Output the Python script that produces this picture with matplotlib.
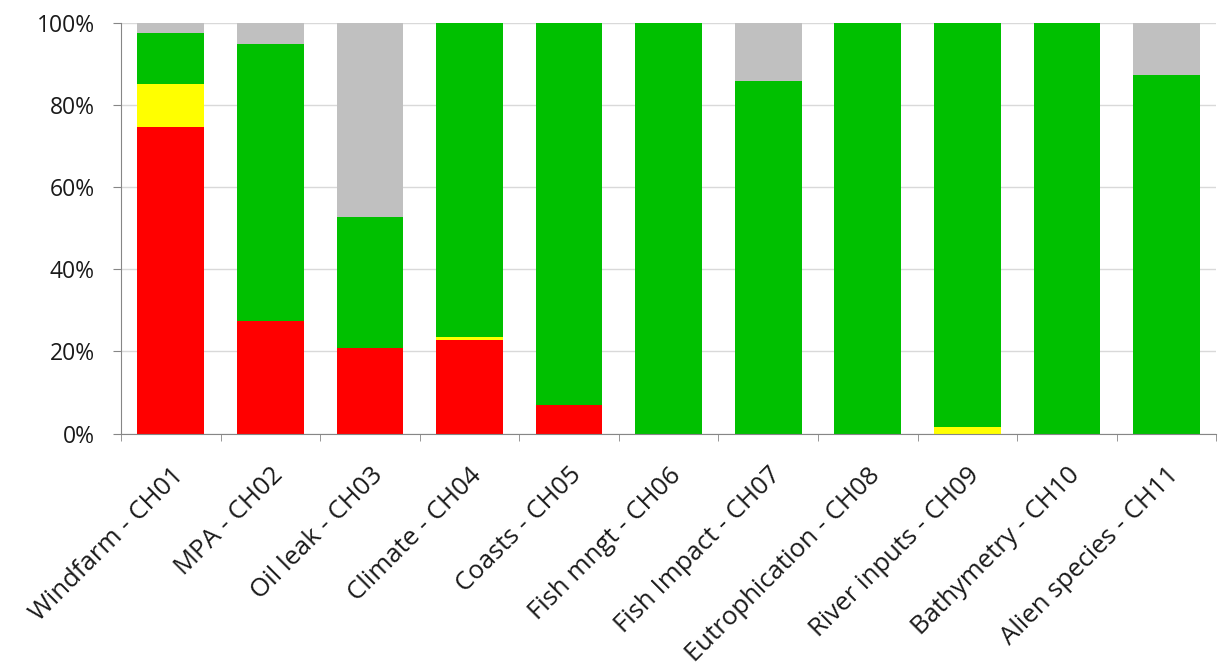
import matplotlib
matplotlib.use("Agg")
import matplotlib.pyplot as plt
import numpy as np
from matplotlib.ticker import FixedLocator, PercentFormatter
from matplotlib.transforms import ScaledTranslation

plt.rcParams['font.family'] = ['Open Sans', 'DejaVu Sans']

# share of answers per challenge (%)
categories = ['Windfarm - CH01', 'MPA - CH02', 'Oil leak - CH03', 'Climate - CH04',
              'Coasts - CH05', 'Fish mngt - CH06', 'Fish Impact - CH07',
              'Eutrophication - CH08', 'River inputs - CH09', 'Bathymetry - CH10',
              'Alien species - CH11']
red = [74.5, 27.3, 20.9, 22.7, 7.0, 0, 0, 0, 0, 0, 0]
yellow = [10.6, 0, 0, 0.7, 0, 0, 0, 0, 1.6, 0, 0]
green = [12.3, 67.6, 31.9, 76.6, 93.0, 100, 85.9, 100, 98.4, 100, 87.3]
grey = [2.6, 5.1, 47.2, 0, 0, 0, 14.1, 0, 0, 0, 12.7]

fig = plt.figure(figsize=(12.19, 6.68), dpi=100)
ax = fig.add_axes([0.0993, 0.351, 0.8985, 0.615])

x = np.arange(len(categories))
w = 0.67
bottom = np.zeros(len(categories))
for vals, col in [(red, '#FF0000'), (yellow, '#FFFF00'), (green, '#00C000'), (grey, '#C0C0C0')]:
    ax.bar(x, vals, w, bottom=bottom, color=col, zorder=2)
    bottom += np.array(vals)

ax.set_xlim(-0.5, len(categories) - 0.5)
ax.set_ylim(0, 100)
ax.set_yticks(np.arange(0, 101, 20))
ax.yaxis.set_major_formatter(PercentFormatter(decimals=0))
ax.grid(axis='y', color='#D9D9D9', linewidth=1, zorder=0)

ax.set_xticks(x)
ax.set_xticklabels(categories, rotation=45, ha='right', va='top', rotation_mode='anchor')
# nudge the slanted labels a little to the left
shift = ScaledTranslation(-6 / 100, 0, fig.dpi_scale_trans)
for lab in ax.get_xticklabels():
    lab.set_transform(lab.get_transform() + shift)
ax.xaxis.set_minor_locator(FixedLocator(np.arange(-0.5, len(categories), 1)))
ax.tick_params(axis='x', which='major', length=0, pad=21, labelsize=18.5, colors='#1a1a1a')
ax.tick_params(axis='x', which='minor', length=5, color='#868686')
ax.tick_params(axis='y', length=6, color='#868686', labelsize=16.5, pad=13, labelcolor='#1a1a1a')

for s in ['top', 'right']:
    ax.spines[s].set_visible(False)
for s in ['left', 'bottom']:
    ax.spines[s].set_color('#868686')

fig.savefig('out.png', dpi=100)
